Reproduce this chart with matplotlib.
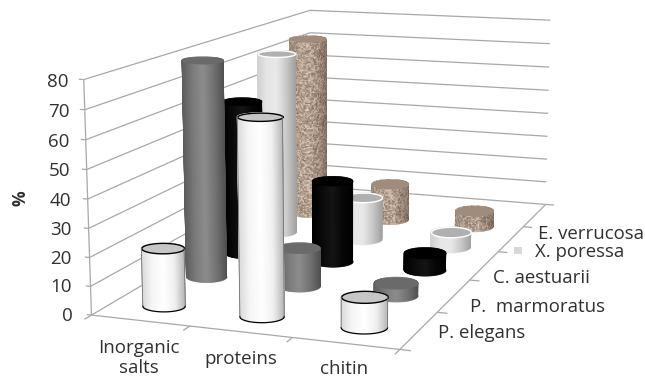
"""3D cylinder chart of body composition per species"""
import numpy as np
import matplotlib
matplotlib.use('Agg')
import matplotlib.pyplot as plt
from mpl_toolkits.mplot3d import proj3d
from mpl_toolkits.mplot3d.art3d import Poly3DCollection

plt.rcParams['font.family'] = ['Open Sans', 'DejaVu Sans']

# Data
categories = ['Inorganic\nsalts', 'proteins', 'chitin']
species = ['P. elegans', 'P.  marmoratus', 'C. aestuarii', 'X. poressa', 'E. verrucosa']
p_elegans = [20.5, 68, 10.5]
p_marmoratus = [79.5, 14, 4.6]
c_aestuarii = [59, 31, 6.5]
x_poressa = [72.5, 17, 6]
e_verrucosa = [74, 15, 6.5]
z_ticks = [0, 10, 20, 30, 40, 50, 60, 70, 80]

series = [p_elegans, p_marmoratus, c_aestuarii, x_poressa, e_verrucosa]

# Colour ramps, left edge of the cylinder to right edge
ramps = [
    ['#d8d8d8', '#f6f6f6', '#ffffff', '#f0f0f0', '#b4b4b4'],
    ['#5c5c5c', '#7a7a7a', '#8c8c8c', '#727272', '#505050'],
    ['#000000', '#0a0a0a', '#141414', '#060606', '#000000'],
    ['#d0d0d0', '#e6e6e6', '#e8e8e8', '#c8c8c8', '#a0a0a0'],
    ['#a08c7c', '#b8a494', '#c0ac9c', '#a89484', '#887464'],
]
caps = ['#c6c6c6', '#6a6a6a', '#000000', '#b0b0b0', '#a08c7c']
outline = ['black', None, None, 'white', None]
row_pos = [0.42, 1.34, 2.18, 3.02, 3.86]
row_shift = [0.51, 0.47, 0.47, 0.47, 0.47]
half_width = 0.22
grid_color = '#a8a8a8'
text_color = '#303030'

# Camera, fitted to the corners of the reference box
elev, azim, focal = 11.505, -70.559, 0.4732
cx, cy, size = 338.61, 159.33, 635.34

fig = plt.figure(figsize=(6.45, 3.78), dpi=100)
ax = fig.add_axes([(cx - size/2)/645, (378 - cy - size/2)/378, size/645, size/378],
                  projection='3d', computed_zorder=False)
ax.set_xlim(0, 3)
ax.set_ylim(0, 5)
ax.set_zlim(0, 80)
ax.view_init(elev, azim)
ax.set_proj_type('persp', focal_length=focal)
ax.set_box_aspect((1, 1.9184, 0.7367))
ax.set_axis_off()
ax.patch.set_alpha(0)
ax.apply_aspect()
M = ax.get_proj()

def screen(x, y, z):
    px, py, _ = proj3d.proj_transform(x, y, z, M)
    return ax.transData.transform((px, py))

def line(xs, ys, zs, color=grid_color, lw=0.9, z=1):
    ax.plot(xs, ys, zs, color=color, lw=lw, zorder=z, solid_capstyle='butt')

def label3d(x, y, z, s, **kw):
    xd, yd = screen(x, y, z)
    fig.text(xd/645, yd/378, s, **kw)

# Walls and floor
for v in z_ticks:
    line([0, 0], [0, 5], [v, v])
    line([0, 3], [5, 5], [v, v])
    line([-0.05, 0], [0, 0], [v, v])
    label3d(-0.2 + v*0.0006, 0, v - 1, str(v), ha='right', va='center', fontsize=13.5, color=text_color)
line([0, 0], [0, 0], [0, 80])
line([0, 3], [0, 0], [0, 0])
line([3, 3], [0, 5], [0, 0])
for i in range(4):
    line([i, i], [0, -0.12], [0, 0])
for j in range(6):
    line([3, 3.1], [j, j], [0, 0])

# Cylinders drawn from back row to front, left to right
t = np.linspace(0, 2*np.pi, 81)
tc = 0.5*(t[:-1] + t[1:])

def ellipse(xc, yc, z):
    # ring that lies level on the screen at this place of the box
    o = screen(xc, yc, z)
    a = (screen(xc + 0.1, yc, z) - o)/0.1
    b = (screen(xc, yc + 0.1, z) - o)/0.1
    w = half_width*np.linalg.norm(a)
    h = w*(0.27 - 0.0013*z)
    d = np.linalg.solve(np.column_stack([a, b]), np.vstack([w*np.cos(t), -h*np.sin(t)]))
    return xc + d[0], yc + d[1]

def speckle(n, m):
    # grain for the brown texture, from a fixed hash of the cell index
    a, b = np.meshgrid(np.arange(m), np.arange(n))
    return (np.sin(a*12.9898 + b*78.233)*43758.5453) % 1

order = 10
for j in range(len(species) - 1, -1, -1):
    ramp = np.array([matplotlib.colors.to_rgb(c) for c in ramps[j]])
    for i in range(len(categories)):
        h = series[j][i]
        xc, yc = i + row_shift[j], row_pos[j]
        bx, by = ellipse(xc, yc, 0)
        ex, ey = ellipse(xc, yc, h)
        nz = 2 if j != 4 else max(8, int(h*2))
        f = np.linspace(0, 1, nz)
        X = np.outer(bx, 1 - f) + np.outer(ex, f)
        Y = np.outer(by, 1 - f) + np.outer(ey, f)
        Z = np.outer(np.ones(t.size), f*h)
        u = (np.cos(tc) + 1)*2
        rgb = np.stack([np.interp(u, np.arange(5), ramp[:, c]) for c in range(3)], axis=1)
        cols = np.repeat(rgb[:, None, :], nz - 1, axis=1)
        if j == 4:
            grain = speckle(cols.shape[0], cols.shape[1])[:, :, None]
            cols = np.clip(cols*(0.72 + 0.5*grain), 0, 1)
        cols = np.dstack([cols, np.ones(cols.shape[:2])])
        base = list(zip(bx, by, np.zeros(t.size)))
        ax.add_collection3d(Poly3DCollection([base], facecolors=ramp[2], edgecolors=ramp[2],
                                             linewidths=0.5, zorder=order))
        order += 1
        ax.plot_surface(X, Y, Z, facecolors=cols, rstride=1, cstride=1, shade=False,
                        linewidth=0.5, antialiased=True, zorder=order)
        order += 1
        top = list(zip(ex, ey, np.full(t.size, h)))
        edge = outline[j] if outline[j] else caps[j]
        ax.add_collection3d(Poly3DCollection([top], facecolors=caps[j], edgecolors=edge,
                                             linewidths=1.0 if outline[j] else 0.3, zorder=order))
        order += 1
        if j == 0:
            # outline of the white columns
            front = t <= np.pi
            ax.plot(bx[front], by[front], np.zeros(front.sum()), color='black', lw=0.9, zorder=order)
            for k in (0, 40):
                ax.plot([bx[k], ex[k]], [by[k], ey[k]], [0, h], color='#707070', lw=0.6, zorder=order)
            order += 1

# Labels
cat_x = [139, 241, 344]
cat_y = [358, 359, 369]
for c, lx, ly in zip(categories, cat_x, cat_y):
    fig.text(lx/645, 1 - ly/378, c, ha='center', va='center', fontsize=13.5, color=text_color, linespacing=1.1)
fig.text(21/645, 1 - 198/378, '%', rotation=90, ha='center', va='center', fontsize=12.5, fontweight='bold', color=text_color)

label_x = [438, 470, 493, 535, 538]
label_y = [333, 307, 278, 252, 234]
for s, lx, ly in zip(species, label_x, label_y):
    fig.text(lx/645, 1 - ly/378, s, ha='left', va='center', fontsize=13.4, color=text_color)
fig.add_artist(plt.Rectangle((514/645, 1 - 254/378), 8/645, 7/378, transform=fig.transFigure,
                             facecolor='#d8d8d8', edgecolor='none'))

fig.savefig('out.png', dpi=100)
